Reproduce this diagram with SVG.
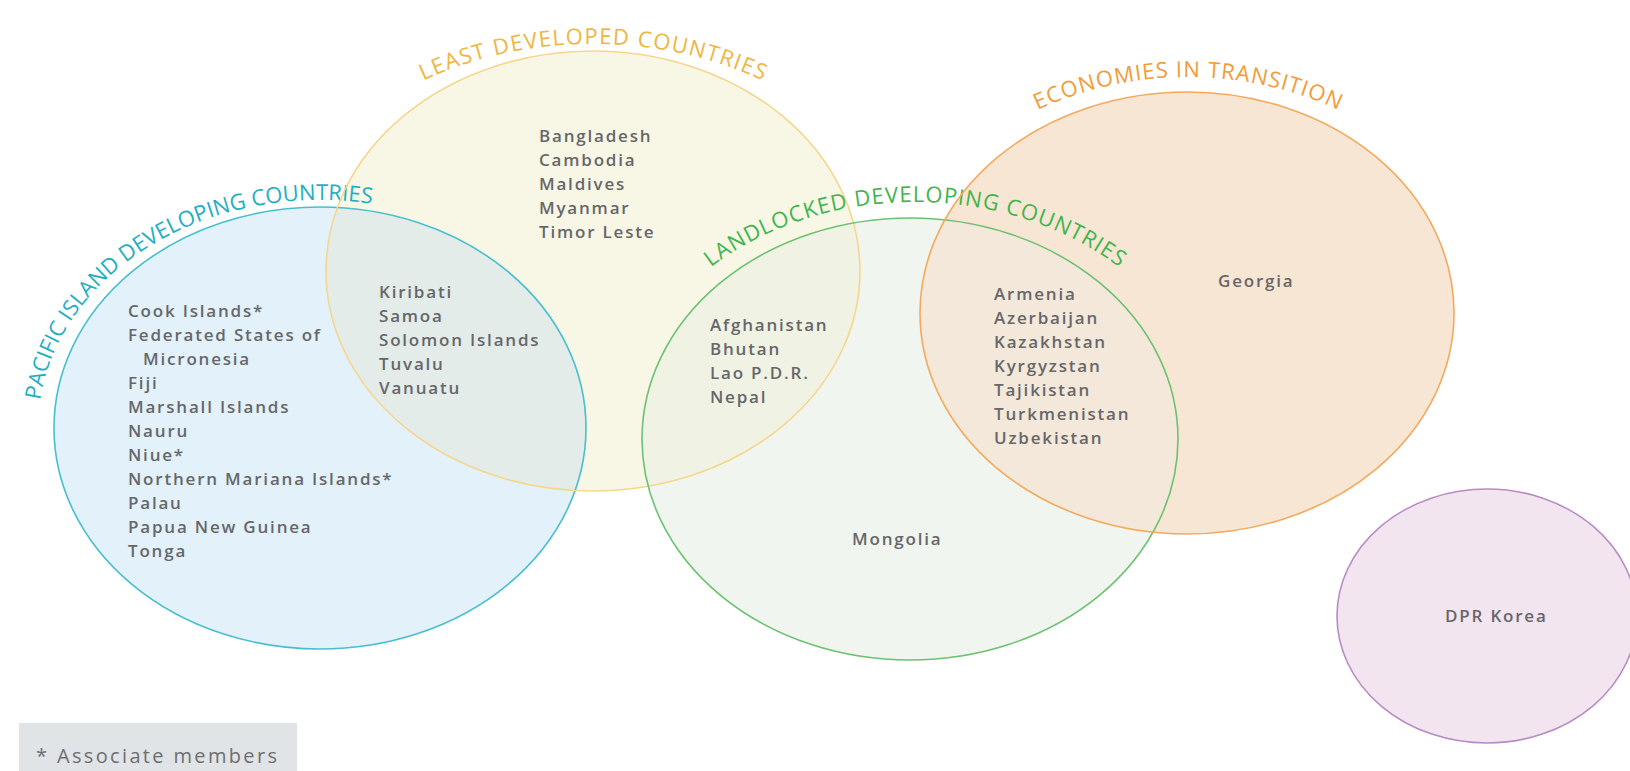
<svg xmlns="http://www.w3.org/2000/svg" width="1630" height="771" viewBox="0 0 1630 771">
<style>
.t{font-family:"Open Sans","Liberation Sans",sans-serif;font-weight:600;font-size:17px;fill:#66676a;letter-spacing:1.8px}
.lbl{font-family:"Open Sans","Liberation Sans",sans-serif;font-weight:500;font-size:22px}
.edge{fill:none;stroke-width:1.6}
</style>
<defs>
<clipPath id="cYel"><ellipse cx="593" cy="271" rx="267" ry="220"/></clipPath>
<clipPath id="cGrn"><ellipse cx="910" cy="439" rx="268" ry="221"/></clipPath>
<path id="pPac" d="M 40.1 400.2 A 282 228 0 0 1 416.4 213.7"/>
<path id="pLdc" d="M 307.2 172 A 330 256 0 0 1 878.8 172"/>
<path id="pLld" d="M 655.2 324 A 300 244 0 0 1 1174.8 324"/>
<path id="pEit" d="M 928.2 200 A 300 246 0 0 1 1447.8 200"/>
</defs>
<rect width="1630" height="771" fill="#ffffff"/>
<g id="fills">
<ellipse cx="320" cy="428" rx="266" ry="221" fill="#e3f1fa"/>
<ellipse cx="593" cy="271" rx="267" ry="220" fill="#f8f7e6"/>
<ellipse cx="910" cy="439" rx="268" ry="221" fill="#f1f5ef"/>
<ellipse cx="1187" cy="313" rx="267" ry="221" fill="#f8e6d4"/>
<ellipse cx="1487" cy="616" rx="150" ry="127" fill="#f2e5f0"/>
<ellipse cx="320" cy="428" rx="266" ry="221" fill="#e3ece8" clip-path="url(#cYel)"/>
<ellipse cx="910" cy="439" rx="268" ry="221" fill="#f0f2e4" clip-path="url(#cYel)"/>
<ellipse cx="1187" cy="313" rx="267" ry="221" fill="#f4e8da" clip-path="url(#cGrn)"/>
</g>
<g id="connectors"></g>
<g id="pacific">
<ellipse class="edge" cx="320" cy="428" rx="266" ry="221" stroke="#48bfcf" stroke-width="2"/>
<text class="lbl" fill="#1eafc2"><textPath href="#pPac">PACIFIC ISLAND</textPath></text>
<text class="lbl" fill="#1eafc2"><textPath href="#pPac" startOffset="166">DEVELOPING COUNTRIES</textPath></text>
<text class="t" x="128" y="317">Cook Islands*</text>
<text class="t" x="128" y="341">Federated States of</text>
<text class="t" x="143" y="365">Micronesia</text>
<text class="t" x="128" y="389">Fiji</text>
<text class="t" x="128" y="413">Marshall Islands</text>
<text class="t" x="128" y="437">Nauru</text>
<text class="t" x="128" y="461">Niue*</text>
<text class="t" x="128" y="485">Northern Mariana Islands*</text>
<text class="t" x="128" y="509">Palau</text>
<text class="t" x="128" y="533">Papua New Guinea</text>
<text class="t" x="128" y="557">Tonga</text>
</g>
<g id="least-developed">
<ellipse class="edge" cx="593" cy="271" rx="267" ry="220" stroke="#f7d68c"/>
<text class="lbl" fill="#f0b540" text-anchor="middle"><textPath href="#pLdc" startOffset="50%" textLength="350" lengthAdjust="spacing">LEAST DEVELOPED COUNTRIES</textPath></text>
<text class="t" x="539" y="142">Bangladesh</text>
<text class="t" x="539" y="166">Cambodia</text>
<text class="t" x="539" y="190">Maldives</text>
<text class="t" x="539" y="214">Myanmar</text>
<text class="t" x="539" y="238">Timor Leste</text>
</g>
<g id="pacific-ldc">
<text class="t" x="379" y="298">Kiribati</text>
<text class="t" x="379" y="322">Samoa</text>
<text class="t" x="379" y="346">Solomon Islands</text>
<text class="t" x="379" y="370">Tuvalu</text>
<text class="t" x="379" y="394">Vanuatu</text>
</g>
<g id="landlocked">
<ellipse class="edge" cx="910" cy="439" rx="268" ry="221" stroke="#6cc271"/>
<text class="lbl" fill="#3fb54e" text-anchor="middle"><textPath href="#pLld" startOffset="50%" textLength="436" lengthAdjust="spacing">LANDLOCKED DEVELOPING COUNTRIES</textPath></text>
<text class="t" x="852" y="545">Mongolia</text>
</g>
<g id="ldc-landlocked">
<text class="t" x="710" y="331">Afghanistan</text>
<text class="t" x="710" y="355">Bhutan</text>
<text class="t" x="710" y="379">Lao P.D.R.</text>
<text class="t" x="710" y="403">Nepal</text>
</g>
<g id="transition">
<ellipse class="edge" cx="1187" cy="313" rx="267" ry="221" stroke="#f5a95b"/>
<text class="lbl" fill="#f39b37" text-anchor="middle"><textPath href="#pEit" startOffset="50%" textLength="310" lengthAdjust="spacing">ECONOMIES IN TRANSITION</textPath></text>
<text class="t" x="1218" y="287">Georgia</text>
</g>
<g id="landlocked-transition">
<text class="t" x="994" y="300">Armenia</text>
<text class="t" x="994" y="324">Azerbaijan</text>
<text class="t" x="994" y="348">Kazakhstan</text>
<text class="t" x="994" y="372">Kyrgyzstan</text>
<text class="t" x="994" y="396">Tajikistan</text>
<text class="t" x="994" y="420">Turkmenistan</text>
<text class="t" x="994" y="444">Uzbekistan</text>
</g>
<g id="dpr-korea">
<ellipse class="edge" cx="1487" cy="616" rx="150" ry="127" stroke="#b88bc3"/>
<text class="t" x="1445" y="622">DPR Korea</text>
</g>
<g id="legend">
<rect x="19" y="723" width="278" height="50" fill="#e1e4e7"/>
<text x="36" y="763" textLength="241" lengthAdjust="spacing" style="font-family:'Open Sans','Liberation Sans',sans-serif;font-size:20px;fill:#6d6e71">* Associate members</text>
</g>
</svg>
